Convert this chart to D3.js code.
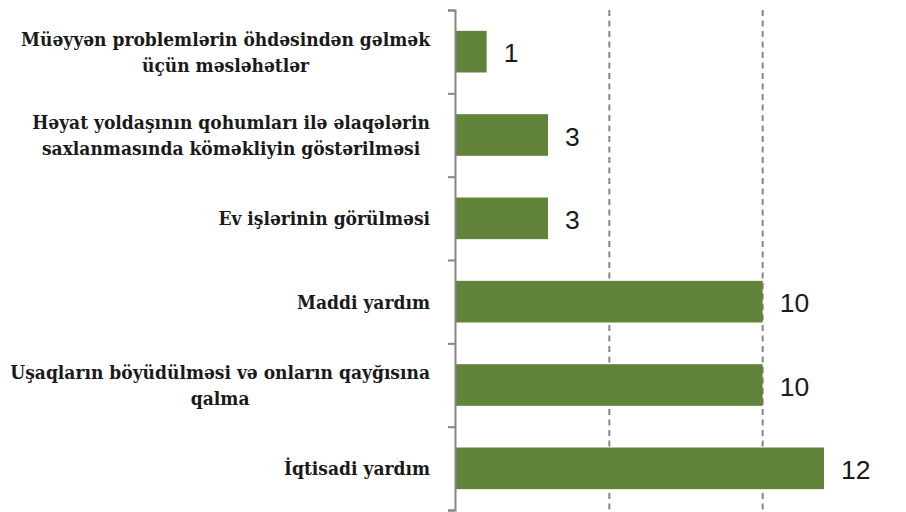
<!DOCTYPE html>
<html lang="az">
<head>
<meta charset="UTF-8">
<title>Yardım növləri</title>
<script src="https://d3js.org/d3.v7.min.js"></script>
<style>
    body { margin: 0; padding: 0; background: #fff; }
    svg { display: block; }
    .cat-label { font-family: "DejaVu Serif Condensed", "DejaVu Serif", serif; font-stretch: condensed; font-weight: bold; font-size: 19px; fill: #1a1a1a; }
    .val-label { font-family: "Liberation Sans", sans-serif; font-size: 26.5px; fill: #1a1a1a; }
</style>
</head>
<body>
<svg id="canvas" width="906" height="512"></svg>
<script>
// categories top to bottom, "\n" marks a line break in the label
const categories = [
    "Müəyyən problemlərin öhdəsindən gəlmək\nüçün məsləhətlər",
    "Həyat yoldaşının qohumları ilə əlaqələrin\nsaxlanmasında köməkliyin göstərilməsi",
    "Ev işlərinin görülməsi",
    "Maddi yardım",
    "Uşaqların böyüdülməsi və onların qayğısına\nqalma",
    "İqtisadi yardım"
]
const values = [1, 3, 3, 10, 10, 12]
const gridValues = [5, 10, 15]

const svg = d3.select("#canvas")

const plotLeft = 456, plotRight = 916, plotTop = 10, plotBottom = 510
const labelRight = 430

const x = d3.scaleLinear().domain([0, 15]).range([plotLeft, plotRight])
const y = d3.scaleBand().domain(categories).range([plotTop, plotBottom])
            .paddingInner(0.5).paddingOuter(0.25)
// boundaries between the categories, for the axis ticks
const yEdge = d3.scaleLinear().domain([0, categories.length]).range([plotTop, plotBottom])

// dashed vertical gridlines
svg.append("g")
    .selectAll("line")
    .data(gridValues)
    .join("line")
    .attr("x1", d => x(d)).attr("x2", d => x(d))
    .attr("y1", plotTop).attr("y2", plotBottom)
    .attr("stroke", "#868686")
    .attr("stroke-width", 2)
    .attr("stroke-dasharray", "6,4.5")

// bars
svg.append("g")
    .selectAll("rect")
    .data(values)
    .join("rect")
    .attr("x", x(0))
    .attr("y", (d, i) => y(categories[i]))
    .attr("width", d => x(d) - x(0))
    .attr("height", y.bandwidth())
    .attr("fill", "#62833a")

// y axis with ticks between categories
const axis = svg.append("g")
    .attr("transform", "translate(" + (plotLeft - 1) + ",0)")
    .call(d3.axisLeft(yEdge).tickValues(d3.range(categories.length + 1)).tickSize(7).tickFormat(""))
axis.select(".domain").attr("stroke", "#868686").attr("stroke-width", 2)
axis.selectAll(".tick line").attr("stroke", "#868686").attr("stroke-width", 2)

// value labels
svg.append("g")
    .selectAll("text")
    .data(values)
    .join("text")
    .attr("class", "val-label")
    .attr("x", d => x(d) + 17)
    .attr("y", (d, i) => y(categories[i]) + y.bandwidth() / 2 + 10.5)
    .text(d => d)

// category labels, lines centred on each other, block right aligned
const lineHeight = 26
categories.forEach((cat, i) => {
    const lines = cat.split("\n")
    const cy = y(cat) + y.bandwidth() / 2
    const t = svg.append("text").attr("class", "cat-label").attr("text-anchor", "middle")
    const spans = lines.map((ln, j) =>
        t.append("tspan")
            .attr("y", cy + 7 + (j - (lines.length - 1) / 2) * lineHeight)
            .text(ln))
    const maxW = d3.max(spans, s => s.node().getComputedTextLength())
    spans.forEach(s => s.attr("x", labelRight - maxW / 2))
})
</script>
</body>
</html>
